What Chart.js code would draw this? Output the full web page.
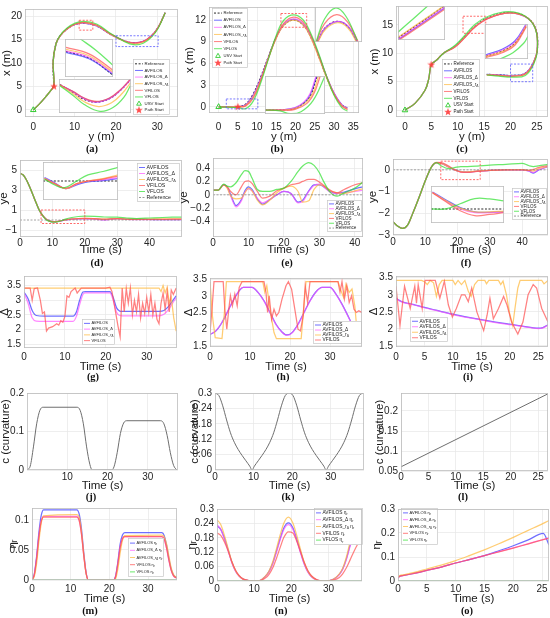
<!DOCTYPE html>
<html><head><meta charset="utf-8">
<script src="https://cdn.jsdelivr.net/npm/chart.js@4.4.1/dist/chart.umd.min.js"></script>
<style>
html,body{margin:0;padding:0;background:#fff}
body{width:550px;height:618px;position:relative;overflow:hidden}
canvas{position:absolute}
.plab{position:absolute;font:bold 10.5px "Liberation Serif","Times New Roman",serif;color:#111;transform:translate(-50%,-50%);white-space:nowrap}
</style></head><body>
<script>
// ===================== DATA =====================
const trajLabels = ['Reference','AVFILOS','AVFILOS_Δ','AVFILOS_r{Δ}','VFILOS','VFLOS','USV Start','Path Start'];
const yeLabels = ['AVFILOS','AVFILOS_Δ','AVFILOS_r{Δ}','VFILOS','VFLOS','Reference'];
const deltaLabels = ['AVFILOS','AVFILOS_Δ','AVFILOS_r{Δ}','VFILOS'];
const etaLabels = ['AVFILOS η{r}','AVFILOS_Δ η{r}','AVFILOS_r{Δ} η{r}','VFILOS η{r}','VFLOS η{r}'];

// (a) trajectory: horizontal = y (m), vertical = x (m)
const trajA_h = [0, 1.5, 3, 4.3, 5, 4.8, 5.5, 6.5, 8.1, 10.1, 12.2, 15.3, 18.5, 21.8, 24.2, 26.6, 28.6, 30.2, 31.9];
const trajA_avfilos  = [0, 1.3, 2.8, 4.2, 5.3, 10.2, 14.1, 15.8, 17.2, 18.2, 18.5, 17.9, 16.2, 14.8, 14.3, 14.6, 15.8, 17.6, 20.7];
const trajA_avfilosD = [0, 1.3, 2.8, 4.2, 5.3, 10.2, 14.1, 15.8, 17.2, 18.2, 18.55, 17.95, 16.2, 14.75, 14.25, 14.6, 15.8, 17.6, 20.7];
const trajA_avfilosR = [0, 1.3, 2.8, 4.2, 5.3, 10.2, 14.1, 15.8, 17.2, 18.25, 18.6, 18.0, 16.2, 14.7, 14.1, 14.45, 15.7, 17.5, 20.7];
const trajA_vfilos   = [0, 1.3, 2.8, 4.2, 5.3, 10.2, 14.1, 15.8, 17.25, 18.3, 18.65, 18.1, 16.3, 14.8, 14.3, 14.6, 15.8, 17.6, 20.7];
const trajA_vflos    = [0, 1.3, 2.8, 4.2, 5.3, 10.2, 14.1, 15.9, 17.4, 18.5, 18.85, 18.3, 16.4, 14.7, 13.9, 14.2, 15.5, 17.4, 20.7];
const trajA_refH = [5, 4.8, 5.5, 6.5, 8.1, 10.1, 12.2, 15.3, 18.5, 21.8, 24.2, 26.6, 28.6, 30.2, 31.9];
const trajA_refV = [5, 10.2, 14.1, 15.8, 17.2, 18.2, 18.5, 17.9, 16.2, 14.8, 14.3, 14.6, 15.8, 17.6, 20.7];
const usvA_h = [0], usvA_v = [0], pathA_h = [5], pathA_v = [5];

// (b) trajectory
const trajB_h = [0, 2.5, 5, 7, 9, 11, 13, 15, 17, 19.5, 22, 24, 26, 28, 30, 32, 33.5];
const trajB_avfilos  = [0, 0, 0, 0.25, 1.6, 4.0, 6.9, 9.6, 11.4, 12.1, 11.4, 9.7, 7.1, 4.3, 1.9, 0.3, -0.2];
const trajB_avfilosD = [0, 0, 0, 0.25, 1.6, 4.0, 6.9, 9.6, 11.4, 12.15, 11.45, 9.7, 7.1, 4.3, 1.9, 0.3, -0.2];
const trajB_avfilosR = [0, 0, 0, 0.2, 1.4, 3.8, 6.8, 9.5, 11.3, 12.0, 11.3, 9.5, 6.9, 4.1, 1.7, 0.2, -0.3];
const trajB_vfilos   = [0, 0, -0.05, 0.1, 1.2, 3.7, 6.8, 9.7, 11.6, 12.4, 11.7, 9.9, 7.2, 4.3, 1.8, 0.1, -0.4];
const trajB_vflos    = [0, -0.05, -0.1, -0.25, 0.8, 3.4, 6.7, 9.9, 12.0, 12.7, 12.0, 10.1, 7.4, 4.3, 1.6, -0.1, -0.6];
const trajB_refH = [5, 7, 9, 11, 13, 15, 17, 19.5, 22, 24, 26, 28, 30, 32, 33.5];
const trajB_refV = [0, 0.35, 1.8, 4.2, 7.0, 9.6, 11.3, 12.0, 11.3, 9.6, 7.0, 4.2, 1.8, 0.3, -0.2];
const usvB_h = [0], usvB_v = [0], pathB_h = [5], pathB_v = [0];

// (c) trajectory
const trajC_h = [0, 1.9, 3.8, 4.5, 5, 6, 7.3, 9.5, 11.4, 13.3, 15.8, 19.6, 22.8, 24.7, 25.1, 24.4, 22.8, 20.3, 17.7, 15.5];
const trajC_avfilos  = [0, 1.2, 3.5, 5.5, 8, 8.8, 10, 11.2, 12.9, 14.7, 16.2, 17.1, 16.4, 14.4, 10.9, 8.5, 6.5, 6.1, 6.2, 6.3];
const trajC_avfilosD = [0, 1.2, 3.5, 5.5, 8, 8.8, 10, 11.2, 12.9, 14.65, 16.15, 17.1, 16.4, 14.4, 10.9, 8.45, 6.45, 6.05, 6.15, 6.25];
const trajC_avfilosR = [0, 1.2, 3.5, 5.5, 8, 8.8, 10, 11.2, 12.9, 14.7, 16.2, 17.1, 16.45, 14.4, 10.9, 8.4, 6.4, 6.0, 6.1, 6.2];
const trajC_vfilos   = [0, 1.2, 3.5, 5.5, 8, 8.8, 10, 11.1, 12.8, 14.6, 16.1, 17.1, 16.45, 14.4, 10.9, 8.35, 6.35, 5.95, 6.1, 6.2];
const trajC_vflos    = [0, 1.2, 3.5, 5.5, 8, 8.8, 10, 11.4, 13.2, 15.1, 16.5, 17.3, 16.5, 14.3, 10.7, 8.1, 6.1, 5.8, 6.0, 6.2];
const trajC_refH = [5, 6, 7.3, 9.5, 11.4, 13.3, 15.8, 19.6, 22.8, 24.7, 25.1, 24.4, 22.8, 20.3, 17.7, 15.5];
const trajC_refV = [8, 8.8, 10, 11.25, 12.95, 14.75, 16.25, 17.15, 16.45, 14.45, 10.9, 8.5, 6.5, 6.1, 6.2, 6.3];
const usvC_h = [0], usvC_v = [0], pathC_h = [5], pathC_v = [8];

// (d) ye
const yeD_t = [0, 1, 2, 3, 4, 5, 6, 7, 8, 9, 10, 11, 12, 13, 14, 16, 18, 20, 23, 26, 30, 33, 36, 40, 44, 47, 50];
const yeD_avfilos  = [4.67, 4.5, 4.0, 3.3, 2.5, 1.7, 0.95, 0.45, 0.1, -0.08, -0.17, -0.18, -0.14, -0.07, 0.0, 0.08, 0.12, 0.13, 0.1, 0.03, 0.14, 0.06, 0.06, 0.05, 0.04, 0.05, 0.05];
const yeD_avfilosD = [4.67, 4.5, 4.0, 3.3, 2.5, 1.7, 0.95, 0.45, 0.1, -0.08, -0.17, -0.18, -0.14, -0.07, 0.0, 0.08, 0.12, 0.12, 0.08, 0.0, 0.13, 0.07, 0.05, 0.05, 0.05, 0.05, 0.05];
const yeD_avfilosR = [4.67, 4.5, 4.0, 3.3, 2.5, 1.7, 0.95, 0.45, 0.1, -0.08, -0.16, -0.17, -0.12, -0.05, 0.02, 0.1, 0.14, 0.16, 0.14, 0.08, 0.14, 0.09, 0.09, 0.1, 0.12, 0.12, 0.12];
const yeD_vfilos   = [4.67, 4.5, 4.0, 3.3, 2.5, 1.7, 0.95, 0.45, 0.1, -0.08, -0.16, -0.17, -0.12, -0.05, 0.03, 0.1, 0.15, 0.16, 0.13, 0.08, 0.14, 0.08, 0.06, 0.06, 0.07, 0.08, 0.08];
const yeD_vflos    = [4.67, 4.5, 4.0, 3.3, 2.5, 1.7, 0.95, 0.43, 0.05, -0.12, -0.2, -0.2, -0.15, -0.05, 0.08, 0.25, 0.35, 0.38, 0.36, 0.3, 0.28, 0.2, 0.15, 0.2, 0.25, 0.28, 0.3];
const refD_t = [0, 50], refD = [0, 0];

// (e) ye
const yeE_t = [0, 1.5, 3, 4, 5, 6.5, 8, 9, 10, 11, 12.5, 14, 16, 18, 20, 22, 24, 25.3, 27, 28.5, 30, 31, 33, 35, 37, 40, 42.3];
const yeE_avfilos  = [0.07, 0.07, 0.15, 0.12, 0.0, -0.16, -0.07, 0.06, 0.12, 0.08, -0.06, -0.14, -0.07, 0.0, 0.05, 0.02, -0.11, -0.08, 0.06, 0.15, 0.15, 0.13, 0.05, 0.02, 0.04, 0.09, 0.12];
const yeE_avfilosD = [0.07, 0.07, 0.15, 0.11, -0.02, -0.18, -0.09, 0.04, 0.09, 0.06, -0.05, -0.12, -0.07, 0.0, 0.05, 0.02, -0.12, -0.1, 0.05, 0.14, 0.16, 0.13, 0.04, 0.02, 0.03, 0.05, 0.07];
const yeE_avfilosR = [0.07, 0.07, 0.15, 0.1, -0.02, -0.06, -0.05, 0.03, 0.1, 0.06, -0.08, -0.15, -0.08, 0.03, 0.1, 0.13, 0.05, -0.11, -0.09, 0.08, 0.15, 0.14, 0.06, 0.03, 0.02, 0.06, 0.09];
const yeE_vfilos   = [0.07, 0.07, 0.15, 0.12, 0.05, 0.0, 0.12, 0.2, 0.21, 0.17, 0.05, -0.05, -0.02, 0.06, 0.1, 0.15, 0.17, 0.2, 0.23, 0.23, 0.19, 0.15, 0.07, 0.03, 0.08, 0.15, 0.18];
const yeE_vflos    = [0.07, 0.07, 0.16, 0.13, 0.12, 0.18, 0.3, 0.36, 0.35, 0.25, 0.08, 0.05, 0.05, 0.08, 0.1, 0.2, 0.35, 0.43, 0.48, 0.44, 0.33, 0.22, 0.04, -0.02, 0.03, 0.1, 0.19];
const refE_t = [0, 42.3], refE = [0, 0];

// (f) ye
const yeF_t = [0, 1.5, 3, 4.5, 6, 8, 10, 12, 13.5, 15, 17, 19, 21, 23, 26, 30, 35, 40, 42, 43.5, 45, 48];
const yeF_avfilos  = [-2.39, -2.6, -2.7, -2.55, -2.05, -1.3, -0.5, 0.15, 0.32, 0.3, 0.15, 0.0, -0.08, -0.1, -0.06, -0.02, 0.0, 0.0, -0.05, -0.15, -0.02, 0.15];
const yeF_avfilosD = [-2.39, -2.6, -2.7, -2.55, -2.05, -1.3, -0.5, 0.15, 0.32, 0.3, 0.15, 0.0, -0.1, -0.11, -0.06, -0.02, 0.0, 0.0, -0.05, -0.12, 0.0, 0.15];
const yeF_avfilosR = [-2.39, -2.6, -2.7, -2.55, -2.05, -1.3, -0.5, 0.15, 0.32, 0.3, 0.15, 0.0, -0.08, -0.09, -0.05, -0.02, 0.0, 0.01, -0.02, -0.05, 0.05, 0.15];
const yeF_vfilos   = [-2.39, -2.6, -2.7, -2.55, -2.05, -1.3, -0.5, 0.16, 0.34, 0.33, 0.2, 0.02, -0.1, -0.12, -0.07, -0.02, 0.0, 0.0, -0.02, 0.02, 0.1, 0.2];
const yeF_vflos    = [-2.39, -2.6, -2.7, -2.55, -2.05, -1.3, -0.5, 0.15, 0.33, 0.18, 0.06, 0.1, 0.15, 0.15, 0.17, 0.22, 0.25, 0.3, 0.2, 0.15, 0.18, 0.25];
const refF_t = [0, 48], refF = [0, 0];

// (g) Δ
const deltaG_t = [0, 1, 2, 3, 5, 12, 12.8, 13.6, 14.4, 15, 21, 21.8, 22.6, 23.4, 24, 33, 34.2, 35.4, 36.4, 37.2];
const deltaG_avfilos  = [3.28, 3.05, 2.65, 2.48, 2.46, 2.46, 2.6, 3.0, 3.28, 3.3, 3.3, 3.1, 2.75, 2.63, 2.62, 2.62, 2.65, 2.8, 3.0, 3.15];
const deltaG_avfilosD = [3.25, 2.9, 2.4, 2.29, 2.28, 2.28, 2.45, 2.85, 3.2, 3.25, 3.25, 3.0, 2.6, 2.48, 2.47, 2.47, 2.52, 2.7, 2.92, 3.08];
const deltaG_avfilosR = [[0,3.42],[33,3.42],[33.5,3.3],[34,3.5],[34.5,3.25],[35,3.45],[35.5,2.9],[36,3.1],[36.6,2.4],[37.2,1.95]];
const deltaG_vfilos = [[0,3.42],[1.5,3.42],[2,3.0],[2.5,3.4],[3.3,3.42],[4,3.0],[4.5,2.55],[5,2.6],[5.5,1.95],[6,2.05],[7,2.1],[8,2.2],[8.5,2.15],[9,2.3],[9.5,2.25],[10,2.45],[10.5,3.15],[11,3.1],[11.5,3.3],[12.5,3.42],[13,3.25],[14,3.42],[20,3.42],[21,3.45],[21.5,3.3],[22,2.9],[22.5,2.5],[23,2.1],[23.5,1.75],[24,3.42],[24.5,2.6],[25,3.4],[25.5,2.9],[26,3.42],[26.5,2.5],[27,3.0],[27.5,2.6],[28,3.2],[28.5,2.4],[29,2.9],[29.5,2.55],[30,3.1],[30.5,2.6],[31,3.2],[31.5,2.5],[32,2.9],[32.5,2.35],[33,2.2],[33.5,2.9],[34,3.25],[34.5,2.7],[35,3.3],[35.5,2.6],[36,3.35],[36.5,3.2],[37.2,3.42]];

// (h) Δ
const deltaH_t = [0, 1.5, 3, 4.5, 6, 7.5, 8.3, 10.5, 12, 13.5, 15, 16.5, 18, 19.2, 20.5, 22, 23.5, 25, 26.5, 28, 30, 31.5, 33, 34.5, 36, 37, 38];
const deltaH_avfilos  = [1.84, 1.95, 2.2, 2.55, 2.9, 3.18, 3.25, 3.25, 3.1, 2.85, 2.5, 2.15, 1.92, 1.83, 1.9, 2.15, 2.5, 2.85, 3.12, 3.25, 3.25, 3.05, 2.75, 2.4, 2.05, 1.92, 1.85];
const deltaH_avfilosD = [1.85, 1.96, 2.21, 2.56, 2.91, 3.19, 3.25, 3.25, 3.1, 2.84, 2.49, 2.14, 1.91, 1.82, 1.89, 2.14, 2.49, 2.84, 3.11, 3.25, 3.25, 3.04, 2.74, 2.39, 2.04, 1.91, 1.84];
const deltaH_avfilosR = [[0,3.42],[0.6,2.4],[1.3,1.75],[3,1.72],[3.6,2.5],[4.1,3.42],[13.2,3.42],[13.7,3.1],[14.2,3.3],[15,2.6],[16,1.9],[16.6,1.72],[22.8,1.72],[23.4,2.6],[24,3.42],[32,3.42],[32.6,3.2],[33.4,2.95],[34,3.35],[34.8,3.1],[35.5,3.2],[36.2,2.7],[36.9,1.75],[38,1.72]];
const deltaH_vfilos = [[0,1.9],[0.5,2.6],[1,3.42],[3.3,3.42],[3.7,2.6],[4.2,2.0],[4.7,2.6],[5.1,3.0],[5.6,2.7],[6.2,3.05],[6.8,2.7],[7.3,3.25],[8,3.42],[13.5,3.42],[14,3.1],[14.4,2.5],[14.8,3.0],[15.4,2.3],[16,2.6],[16.6,2.4],[17.2,2.5],[18,2.9],[19,3.3],[19.6,3.42],[20.4,3.2],[21.2,2.6],[22,2.0],[22.6,1.95],[23.3,2.4],[23.8,3.3],[24.4,2.8],[25,3.42],[32,3.42],[32.5,3.1],[33,3.42],[33.6,2.9],[34.2,3.3],[34.8,2.8],[35.4,3.0],[36,2.6],[36.6,2.5],[37.2,2.55],[38,2.5]];

// (i) Δ
const deltaI_t = [0, 1, 3, 5, 7, 10, 13, 16, 19, 22, 25, 25.8, 26.7];
const deltaI_avfilos  = [2.9, 2.8, 2.72, 2.63, 2.55, 2.43, 2.33, 2.24, 2.16, 2.09, 2.02, 2.04, 2.12];
const deltaI_avfilosD = [2.89, 2.79, 2.71, 2.62, 2.54, 2.42, 2.32, 2.23, 2.15, 2.08, 2.01, 2.03, 2.11];
const deltaI_avfilosR = [[0,3.42],[4.5,3.42],[5,3.38],[5.5,3.3],[6,3.42],[6.6,3.35],[7.1,2.95],[7.6,3.3],[8.1,3.42],[10,3.42],[10.4,3.3],[10.9,3.42],[11.5,3.3],[12.1,3.42],[12.7,3.1],[13.2,2.95],[13.8,3.3],[14.4,3.42],[15.6,3.42],[15.9,3.32],[16.3,3.42],[18,3.42],[18.4,3.3],[18.8,3.4],[19.4,3.0],[19.9,2.5],[20.5,2.1],[20.9,2.6],[21.4,3.2],[21.8,3.42],[25.6,3.42],[26,3.32],[26.7,3.42]];
const deltaI_vfilos = [[0,3.25],[0.7,2.1],[1.5,3.25],[2.5,2.6],[3.3,3.25],[3.6,2.75],[3.9,3.3],[4.6,2.6],[5.1,3.42],[6.9,3.42],[7.7,2.9],[8.5,3.4],[9.2,2.7],[9.9,2.35],[10.6,2.6],[11.5,3.0],[12.1,3.0],[12.7,2.8],[13.3,3.2],[14.2,2.5],[15.4,1.95],[16,2.4],[16.5,2.9],[17.1,2.3],[18,2.6],[18.9,2.95],[19.5,2.7],[20.3,2.2],[21.4,1.85],[22.3,2.2],[23.2,3.0],[24.1,3.3],[24.7,3.2],[25.6,2.6],[26.7,2.2]];

// (j)(k)(l) curvature
const curvJ_t = [0, 0.8, 1.6, 2.4, 3.2, 4, 12.4, 13.2, 14, 14.8, 15.6, 16.2, 21, 21.6, 22.4, 23.2, 24, 24.8, 33.2, 34, 34.8, 35.6, 36.4, 37.2];
const curvJ   = [0, 0.01, 0.06, 0.12, 0.155, 0.163, 0.163, 0.155, 0.12, 0.06, 0.015, 0, 0, 0.008, 0.045, 0.095, 0.122, 0.128, 0.128, 0.12, 0.09, 0.045, 0.012, 0];
const curvK_t = [0,1,2,3,4,5,6,7,8,9,9.6, 10.2,11.2,12.2,13.2,14.2,15.2,16.2,17.2,18.2,19.2, 20.2,21.2,22.2,23.2,24.2,25.2,26.2,27.2,28.2,28.8, 29.4,30.4,31.4,32.4,33.4,34.4,35.4,36.4,37.4,38.4];
const curvK   = [0.3,0.29,0.25,0.195,0.145,0.108,0.08,0.057,0.036,0.015,0, 0.015,0.036,0.057,0.08,0.108,0.145,0.195,0.25,0.29,0.3, 0.29,0.25,0.195,0.145,0.108,0.08,0.057,0.036,0.015,0, 0.015,0.036,0.057,0.08,0.108,0.145,0.195,0.25,0.29,0.3];
const curvL_t = [0, 26.8];
const curvL   = [0.0605, 0.243];

// (m) η_r
const etaM_t = [0, 0.6, 1.2, 1.8, 2.4, 3, 11.6, 12.2, 12.8, 13.4, 14, 14.6, 21, 21.6, 22.2, 22.8, 23.4, 24, 33.6, 34.2, 34.8, 35.4, 36, 36.6, 37.5];
const etaM_avfilos  = [0, 0.01, 0.04, 0.08, 0.108, 0.117, 0.117, 0.11, 0.085, 0.045, 0.012, 0, 0, 0.006, 0.03, 0.06, 0.075, 0.079, 0.079, 0.074, 0.058, 0.036, 0.018, 0.008, 0.004];
const etaM_avfilosD = [0, 0.009, 0.037, 0.074, 0.099, 0.106, 0.106, 0.1, 0.077, 0.04, 0.011, 0, 0, 0.005, 0.027, 0.055, 0.069, 0.0725, 0.0725, 0.068, 0.053, 0.033, 0.016, 0.007, 0.003];
const etaM_avfilosR = [0, 0.006, 0.028, 0.065, 0.095, 0.107, 0.109, 0.105, 0.08, 0.042, 0.01, 0, 0, 0.002, 0.018, 0.045, 0.066, 0.074, 0.075, 0.072, 0.06, 0.04, 0.02, 0.009, 0.004];
const etaM_vfilos   = [0, 0.009, 0.036, 0.073, 0.098, 0.105, 0.105, 0.099, 0.076, 0.04, 0.011, 0, 0, 0.005, 0.027, 0.054, 0.069, 0.0725, 0.0725, 0.068, 0.053, 0.033, 0.016, 0.007, 0.003];
const etaM_vflos_t = [0, 37.5], etaM_vflos = [0, 0];

// (n) η_r
const etaN_t = [0,1,2,3,4,5,6,7,8.5,10,11.5,13,14,15,16,17,18,19.2,20.4,21.4,22.4,23.4,24.4,25.4,26.9,28.5,30,31.4,32.9,33.8,34.8,35.8,36.8,37.8,38.6,39];
const etaN_avfilos  = [0.23,0.215,0.178,0.13,0.078,0.042,0.02,0.008,0.002,0,0.002,0.019,0.04,0.075,0.125,0.177,0.222,0.242,0.222,0.177,0.125,0.075,0.04,0.019,0.004,0,0.001,0.008,0.028,0.05,0.092,0.15,0.197,0.232,0.242,0.24];
const etaN_avfilosD = [0.235,0.215,0.175,0.126,0.075,0.04,0.019,0.007,0.002,0,0.002,0.018,0.038,0.072,0.12,0.172,0.215,0.235,0.215,0.172,0.12,0.072,0.038,0.018,0.004,0,0.001,0.007,0.027,0.048,0.089,0.145,0.19,0.225,0.235,0.233];
const etaN_avfilosR = [0.255,0.235,0.19,0.135,0.08,0.043,0.02,0.008,0.002,0,0.002,0.02,0.042,0.08,0.135,0.193,0.242,0.266,0.242,0.193,0.135,0.08,0.042,0.02,0.004,0,0.001,0.008,0.03,0.053,0.1,0.163,0.215,0.253,0.266,0.262];
const etaN_vfilos   = [0.2,0.19,0.163,0.125,0.08,0.045,0.022,0.009,0.002,0,0.001,0.012,0.028,0.055,0.095,0.14,0.182,0.205,0.2,0.168,0.125,0.08,0.045,0.022,0.005,0,0.001,0.004,0.015,0.03,0.055,0.088,0.122,0.152,0.17,0.177];
const etaN_vflos_t = [0, 39], etaN_vflos = [0, 0];

// (o) η_r
const etaO_t = [0, 0.3, 1, 3, 5, 7.5, 10, 12.5, 15, 17.5, 20, 22.5, 25.2, 26.2];
const etaO_avfilos  = [0.012, 0.02, 0.023, 0.033, 0.044, 0.058, 0.075, 0.09, 0.106, 0.126, 0.147, 0.17, 0.198, 0.15];
const etaO_avfilosD = [0.012, 0.02, 0.023, 0.033, 0.044, 0.058, 0.075, 0.09, 0.106, 0.122, 0.138, 0.155, 0.173, 0.18];
const etaO_avfilosR = [0.015, 0.023, 0.026, 0.037, 0.05, 0.066, 0.085, 0.107, 0.13, 0.155, 0.182, 0.21, 0.24, 0.252];
const etaO_vfilos   = [0.012, 0.02, 0.023, 0.033, 0.044, 0.058, 0.075, 0.09, 0.106, 0.121, 0.137, 0.154, 0.172, 0.179];
const etaO_vflos_t = [0, 26.2], etaO_vflos = [0, 0];

// inset (zoomed) series, local 0..10 coordinates
const insA1_ref = [[0.2,6.7],[5,5.0],[10,0.5]];
const insA1_av  = [[0.2,6.5],[5,4.8],[10,0.7]];
const insA1_avD = [[0.2,6.9],[5,5.2],[10,1.0]];
const insA1_avR = [[0.2,7.3],[5,5.6],[10,1.3]];
const insA1_vf  = [[0.2,7.8],[5,6.1],[10,1.8]];
const insA1_vfl = [[3,10.2],[6.5,7.0],[10,3.1]];
const insA2_ref = [[0.1,8.4],[2,6.0],[3.5,4.0],[5.2,3.2],[7,4.2],[8.5,6.6],[9.9,9.7]];
const insA2_av  = [[0.1,8.3],[2,6.2],[3.5,4.3],[5.2,3.3],[7,4.3],[8.5,6.7],[9.9,9.8]];
const insA2_avD = [[0.1,8.3],[2,6.1],[3.5,4.2],[5.2,3.2],[7,4.2],[8.5,6.6],[9.9,9.7]];
const insA2_avR = [[0.1,8.2],[2,5.6],[3.5,3.3],[5.5,1.9],[7.3,3.0],[8.8,5.8],[9.9,8.8]];
const insA2_vf  = [[0.1,8.3],[2,6.3],[3.5,4.4],[5.2,3.4],[7,4.4],[8.5,6.8],[9.9,9.9]];
const insA2_vfl = [[0.1,8.1],[2,5.1],[3.5,2.5],[5.7,0.5],[7.5,1.6],[9,4.6],[9.9,8]];
const insB1_ref = [[0.5,0],[2.2,4.1],[4.7,5.9],[7,4.4],[9,0]];
const insB1_av  = [[0.5,0],[2.2,4.0],[4.8,5.8],[7,4.5],[9,0]];
const insB1_avD = [[0.5,0],[2.2,4.1],[4.8,5.9],[7,4.6],[9.1,0]];
const insB1_avR = [[0.6,0],[2.3,3.7],[4.8,5.5],[7,4.0],[8.8,0]];
const insB1_vf  = [[0.3,0],[2,5.2],[4.6,7.8],[7,5.6],[9.2,0]];
const insB1_vfl = [[0.3,0.3],[2,6.5],[4.3,9.7],[6.5,7.5],[9,0.5]];
const insB2_ref = [[0,1.05],[3,1.1],[5,1.5],[6.5,2.9],[7.6,5],[8.7,10]];
const insB2_av  = [[0,1.05],[3,1.1],[5,1.6],[6.5,3],[7.5,5],[8.6,10]];
const insB2_avD = [[0,1.05],[3,1.1],[5,1.7],[6.5,3.2],[7.5,5.3],[8.5,10]];
const insB2_avR = [[0,1.05],[3,1.05],[5,1.4],[6.8,3],[8,5.5],[8.9,10]];
const insB2_vf  = [[0,1.05],[3,1.0],[5,1.2],[7,2.8],[8.2,5.5],[9.2,10]];
const insB2_vfl = [[0,1.05],[2.5,0.8],[4.2,0.1],[6,0.6],[8,3.5],[10,10]];
const insC1_ref = [[0,0.6],[5,5.3],[10,10.1]];
const insC1_av  = [[0,0.1],[5,4.8],[10,9.5]];
const insC1_avD = [[0,0.3],[5,5.0],[10,9.7]];
const insC1_avR = [[0,0.8],[5,5.5],[10,10.3]];
const insC1_vf  = [[0,-0.2],[5,4.4],[10,9.1]];
const insC1_vfl = [[0,2.3],[3.2,6.2],[6.3,10]];
const insC2_ref = [[0.2,0.8],[4,2.3],[7,4.6],[9.6,9.6]];
const insC2_av  = [[0.2,1.2],[4,2.8],[7,5.2],[9.6,10]];
const insC2_avD = [[0.2,1.0],[4,2.5],[7,4.9],[9.6,9.8]];
const insC2_avR = [[0.2,0.7],[4,2.1],[7,4.4],[9.6,9.5]];
const insC2_vf  = [[0.2,0.4],[4,1.8],[7,4.0],[9.6,9.2]];
const insC2_vfl = [[3.5,0],[6.5,1.8],[9,4.5],[10,6.5]];
const insD_ref = [[0,5],[10,5]];
const insD_av  = [[0.2,5.9],[1.5,4.6],[3,3.0],[4.5,4.0],[6,4.8],[8,5.1],[10,5.6]];
const insD_avD = [[0.2,5.7],[1.5,4.4],[3,3.0],[4.5,4.2],[6,5.0],[8,5.3],[10,5.9]];
const insD_avR = [[0.2,5.7],[1.5,4.4],[3.1,3.0],[4.5,4.3],[6,5.0],[8,5.6],[10,6.6]];
const insD_vf  = [[0.2,5.6],[1.5,4.3],[3,3.1],[4.5,4.3],[6,5.0],[8,5.5],[10,6.3]];
const insD_vfl = [[0.2,5.5],[1.5,4.0],[2.8,3.2],[4.5,5.0],[6,6.6],[8,7.5],[10,8.6]];
const insF_ref = [[0,3.8],[10,3.8]];
const insF_av  = [[0.2,8.4],[2,6.3],[4,4.2],[6,3.0],[8,2.9],[10,3.1]];
const insF_avD = [[0.2,8.3],[2,6.0],[4,3.8],[6,2.8],[8,2.8],[10,3.0]];
const insF_avR = [[0.2,8.2],[2,6.1],[4,4.0],[6,3.0],[8,3.0],[10,3.2]];
const insF_vf  = [[0.2,8.2],[2,5.8],[4,3.3],[6,2.0],[8,2.3],[10,2.8]];
const insF_vfl = [[0,3.8],[2,3.8],[4,5.2],[6,6.6],[8,6.5],[10,6.0]];

// tick values
const tk = {
  a:{x:[0,10,20,30], y:[0,5,10,15,20]},
  b:{x:[0,5,10,15,20,25,30,35], y:[0,3,6,9,12]},
  c:{x:[0,5,10,15,20,25], y:[0,5,10,15]},
  d:{x:[0,10,20,30,40], y:[-1,1,3,5]},
  e:{x:[0,10,20,30,40], y:[-0.4,-0.2,0,0.2,0.4]},
  f:{x:[0,10,20,30,40], y:[-3,-2,-1,0]},
  g:{x:[0,10,20,30], y:[1.5,2,2.5,3,3.5]},
  h:{x:[0,10,20,30], y:[1.5,2,2.5,3,3.5]},
  i:{x:[0,5,10,15,20,25], y:[1.5,2,2.5,3,3.5]},
  j:{x:[10,20,30], y:[0,0.1,0.2]},
  k:{x:[0,10,20,30], y:[0,0.06,0.12,0.18,0.24,0.3]},
  l:{x:[0,5,10,15,20,25], y:[0.05,0.1,0.15,0.2]},
  m:{x:[0,10,20,30], y:[0,0.05,0.1]},
  n:{x:[0,10,20,30], y:[0,0.06,0.12,0.18,0.24,0.3]},
  o:{x:[0,5,10,15,20,25], y:[0,0.1,0.2,0.3]}
};

// ===================== STYLE / LAYOUT =====================
const FAM = '"Liberation Sans", Arial, "DejaVu Sans", sans-serif';
const TICK_FS = 10, TITLE_FS = 11.5;
Chart.defaults.font.family = FAM;
Chart.defaults.color = '#262626';
const C = {
  blue:'rgba(70,70,255,0.78)', mag:'rgba(255,80,255,0.68)', orange:'rgba(255,185,60,0.72)',
  red:'rgba(255,80,80,0.72)', green:'rgba(50,225,50,0.72)', ref:'#2a2a2a', refGrey:'rgba(120,120,120,0.75)',
  curv:'#6e6e6e', greenM:'#33cc33', redM:'#ff3333'
};
const SER = [C.blue, C.mag, C.orange, C.red, C.green];

const zip = (xs, ys) => xs.map((x, i) => ({x, y: ys[i]}));
const pts = a => a.map(p => ({x: p[0], y: p[1]}));
function fmt(v){ const a = parseFloat(Math.abs(v).toFixed(4)); return (v < -1e-9 ? '\u2212' : '') + a; }
function ln(label, data, color, o) {
  return Object.assign({label, data, borderColor: color, backgroundColor: color, borderWidth: 1.25,
    pointRadius: 0, pointHoverRadius: 0, showLine: true, fill: false, tension: 0.4}, o || {});
}
const MONO = {cubicInterpolationMode:'monotone'};

function starImg(size, color){
  const c = document.createElement('canvas'); c.width = c.height = size;
  const g = c.getContext('2d'); g.fillStyle = color; g.beginPath();
  for (let i = 0; i < 10; i++) { const r = i % 2 ? size*0.21 : size*0.5; const a = -Math.PI/2 + i*Math.PI/5;
    g.lineTo(size/2 + r*Math.cos(a), size/2 + r*Math.sin(a)); }
  g.closePath(); g.fill(); return c;
}
const STAR = starImg(8, 'rgba(255,60,60,0.9)');

function richParts(text){ return text.split(/(\{[^}]*\})/).filter(s => s.length); }
function richWidth(ctx, text, fs){
  let w = 0;
  for (const p of richParts(text)) {
    if (p[0] === '{') { ctx.font = (fs*0.72) + 'px ' + FAM; w += ctx.measureText(p.slice(1,-1)).width; }
    else { ctx.font = fs + 'px ' + FAM; w += ctx.measureText(p).width; }
  }
  return w;
}
function drawRich(ctx, text, x, y, fs){
  let cx = x;
  for (const p of richParts(text)) {
    if (p[0] === '{') { const s = p.slice(1,-1); ctx.font = (fs*0.72) + 'px ' + FAM; ctx.fillText(s, cx, y + fs*0.32); cx += ctx.measureText(s).width; }
    else { ctx.font = fs + 'px ' + FAM; ctx.fillText(p, cx, y); cx += ctx.measureText(p).width; }
  }
}
function drawMarker(ctx, d, x, y){
  const ps = d.pointStyle;
  if (ps instanceof HTMLCanvasElement) { ctx.drawImage(ps, x - ps.width/2, y - ps.height/2); return; }
  const r = 2.5; ctx.strokeStyle = d.pointBorderColor || d.borderColor; ctx.lineWidth = 0.9;
  ctx.beginPath(); ctx.moveTo(x, y - r); ctx.lineTo(x + r*0.95, y + r*0.65); ctx.lineTo(x - r*0.95, y + r*0.65); ctx.closePath(); ctx.stroke();
}

const legendPlugin = {
  id: 'boxLegend',
  afterDatasetsDraw(chart, args, o) {
    if (!o || !o.rect) return;
    const ctx = chart.ctx; const [x0, y0, x1, y1] = o.rect;
    const items = chart.data.datasets.filter(d => !d.noLegend);
    ctx.save();
    ctx.fillStyle = '#fff'; ctx.fillRect(x0, y0, x1 - x0, y1 - y0);
    ctx.strokeStyle = '#c6c6c6'; ctx.lineWidth = 0.7; ctx.strokeRect(x0 + 0.5, y0 + 0.5, x1 - x0 - 1, y1 - y0 - 1);
    const n = items.length, pad = 1.5, rh = (y1 - y0 - 2*pad) / n;
    const tx = x0 + 2 + o.sw + 1.5, avail = x1 - tx - 1.5;
    let maxW = 0; items.forEach(d => { maxW = Math.max(maxW, richWidth(ctx, d.label, 10)); });
    const fs = Math.min(o.fs, 10 * avail / maxW);
    ctx.textBaseline = 'middle';
    items.forEach((d, i) => {
      const cy = y0 + pad + rh*(i + 0.5);
      const sx0 = x0 + 2, sx1 = x0 + 2 + o.sw;
      if (d.showLine === false) drawMarker(ctx, d, (sx0 + sx1)/2, cy);
      else { ctx.strokeStyle = d.borderColor; ctx.lineWidth = 1; ctx.setLineDash(d.borderDash || []);
        ctx.beginPath(); ctx.moveTo(sx0, cy); ctx.lineTo(sx1, cy); ctx.stroke(); ctx.setLineDash([]); }
      ctx.fillStyle = '#222';
      drawRich(ctx, d.label, tx, cy, fs);
    });
    ctx.restore();
  }
};
const zoomBoxPlugin = {
  id: 'zoomBoxes',
  afterDatasetsDraw(chart, args, o) {
    if (!o || !o.boxes || !o.boxes.length) return;
    const ctx = chart.ctx, sx = chart.scales.x, sy = chart.scales.y;
    ctx.save(); ctx.lineWidth = 0.9; ctx.setLineDash([2, 1.5]);
    for (const b of o.boxes) {
      const X0 = sx.getPixelForValue(b.x0), X1 = sx.getPixelForValue(b.x1), Y0 = sy.getPixelForValue(b.y0), Y1 = sy.getPixelForValue(b.y1);
      ctx.strokeStyle = b.c; ctx.strokeRect(X0, Y1, X1 - X0, Y0 - Y1);
    }
    ctx.restore();
  }
};
const framePlugin = {
  id: 'frame',
  beforeDatasetsDraw(chart, args, o) {
    if (o && o.bg) { const a = chart.chartArea; chart.ctx.save(); chart.ctx.fillStyle = o.bg; chart.ctx.fillRect(a.left, a.top, a.right - a.left, a.bottom - a.top); chart.ctx.restore(); }
  },
  afterDraw(chart) {
    const a = chart.chartArea, ctx = chart.ctx; ctx.save(); ctx.strokeStyle = '#bdbdbd'; ctx.lineWidth = 0.8;
    ctx.strokeRect(a.left + 0.4, a.top + 0.4, a.right - a.left - 0.8, a.bottom - a.top - 0.8); ctx.restore();
  }
};

function addCanvas(l, t, w, h){
  const cv = document.createElement('canvas'); cv.width = w; cv.height = h;
  cv.style.left = l + 'px'; cv.style.top = t + 'px'; cv.style.width = w + 'px'; cv.style.height = h + 'px';
  document.body.appendChild(cv); return cv;
}
function axis(min, max, ticks, title, pad, size, isX){
  return {
    type: 'linear', min, max, bounds: 'data',
    afterBuildTicks: s => { s.ticks = ticks.map(v => ({value: v})); },
    afterFit: s => { if (isX) s.height = size; else s.width = size; },
    ticks: {font: {size: TICK_FS}, color: '#262626', padding: pad, maxRotation: 0, autoSkip: false, callback: v => fmt(v)},
    grid: {color: '#e6e6e6', lineWidth: 0.7, drawTicks: false},
    border: {display: false},
    title: {display: true, text: title, font: {size: TITLE_FS}, color: '#1a1a1a', padding: 0}
  };
}
function makePanel(p, o){
  const pt = 8, pr = 5;
  const half = TITLE_FS * 0.6;
  const yw = Math.round(p.L - p.ytX + half);
  const xh = Math.round(p.xtlY - p.B + half);
  const cl = p.L - yw, ct = p.T - pt;
  const cw = yw + (p.R - p.L) + pr, chh = pt + (p.B - p.T) + xh;
  const cv = addCanvas(cl, ct, cw, chh);
  const xpad = Math.max(0, p.xtY - p.B - TICK_FS * 0.6);
  const leg = o.legend ? {rect: [o.legend.r[0] - cl, o.legend.r[1] - ct, o.legend.r[2] - cl, o.legend.r[3] - ct], fs: o.legend.fs, sw: o.legend.sw} : {};
  new Chart(cv, {type: 'scatter', data: {datasets: o.ds}, options: {
    responsive: false, animation: false, events: [],
    layout: {padding: {top: pt, right: pr, left: 0, bottom: 0}},
    plugins: {legend: {display: false}, tooltip: {enabled: false}, boxLegend: leg, zoomBoxes: {boxes: o.boxes || []}, frame: {}},
    scales: {x: axis(o.xr[0], o.xr[1], o.xt, o.xTitle, xpad, xh, true), y: axis(o.yr[0], o.yr[1], o.yt, o.yTitle, 3, yw, false)}
  }, plugins: [zoomBoxPlugin, legendPlugin, framePlugin]});
  const lab = document.createElement('div'); lab.className = 'plab'; lab.textContent = o.tag;
  lab.style.left = o.tagXY[0] + 'px'; lab.style.top = o.tagXY[1] + 'px'; document.body.appendChild(lab);
}
function makeInset(r, ds){
  const cv = addCanvas(r[0], r[1], r[2] - r[0], r[3] - r[1]);
  new Chart(cv, {type: 'scatter', data: {datasets: ds}, options: {
    responsive: false, animation: false, events: [], layout: {padding: 0},
    plugins: {legend: {display: false}, tooltip: {enabled: false}, frame: {bg: '#fff'}},
    scales: {x: {display: false, min: 0, max: 10}, y: {display: false, min: 0, max: 10}}
  }, plugins: [framePlugin]});
}

// dataset builders
function trajDs(h, series, refH, refV, usvH, usvV, pathH, pathV){
  const ds = [ln(trajLabels[0], zip(refH, refV), C.ref, {borderDash: [2, 1.6], borderWidth: 1.2, order: 20})];
  series.forEach((s, i) => ds.push(ln(trajLabels[i + 1], zip(h, s), SER[i], {order: 10 - i})));
  ds.push({label: trajLabels[6], data: zip(usvH, usvV), showLine: false, pointStyle: 'triangle', pointRadius: 3.2,
    pointBorderColor: C.greenM, pointBackgroundColor: 'rgba(0,0,0,0)', pointBorderWidth: 1, borderColor: C.greenM, order: -1});
  ds.push({label: trajLabels[7], data: zip(pathH, pathV), showLine: false, pointStyle: STAR, borderColor: C.redM, order: -2});
  return ds;
}
function yeDs(t, series, rt, rv){
  const ds = series.map((s, i) => ln(yeLabels[i], zip(t, s), SER[i], Object.assign({order: 10 - i}, MONO)));
  ds.push(ln(yeLabels[5], zip(rt, rv), C.refGrey, {borderDash: [2, 1.5], borderWidth: 0.9, tension: 0, order: 0}));
  return ds;
}
function deltaDs(t, av, avD, avR, vf){
  return [
    ln(deltaLabels[0], zip(t, av), C.blue, Object.assign({order: 10}, MONO)),
    ln(deltaLabels[1], zip(t, avD), C.mag, Object.assign({order: 9}, MONO)),
    ln(deltaLabels[2], pts(avR), C.orange, {tension: 0, order: 8}),
    ln(deltaLabels[3], pts(vf), C.red, {tension: 0, order: 7})
  ];
}
function etaDs(t, series, gt, gv){
  const ds = series.map((s, i) => ln(etaLabels[i], zip(t, s), SER[i], Object.assign({order: 10 - i}, MONO)));
  ds.push(ln(etaLabels[4], zip(gt, gv), C.green, {tension: 0, order: 5}));
  return ds;
}
function insetDs(list){ return list.map((a, i) => i === 0 ? ln('', pts(a), C.ref, {borderDash: [2, 1.6], borderWidth: 1.1, order: 20}) : ln('', pts(a), SER[i - 1], {order: 10 - i})); }
function curvDs(t, v){ return [ln('c', zip(t, v), C.curv, Object.assign({borderWidth: 1, noLegend: true}, MONO))]; }

const BR = 'rgba(255,70,70,0.9)', BB = 'rgba(90,90,255,0.9)';

// ---------------- Row 1 ----------------
makePanel({L:25,T:8,R:178,B:117,xtY:127,xtlY:137,ytX:7}, {
  tag:'(a)', tagXY:[92,148], xr:[-2,35], yr:[-1.5,21.5], xt:tk.a.x, yt:tk.a.y, xTitle:'y (m)', yTitle:'x (m)',
  ds: trajDs(trajA_h, [trajA_avfilos, trajA_avfilosD, trajA_avfilosR, trajA_vfilos, trajA_vflos], trajA_refH, trajA_refV, usvA_h, usvA_v, pathA_h, pathA_v),
  boxes:[{x0:11.1,x1:14.4,y0:17,y1:19.1,c:BR},{x0:20,x1:30.2,y0:13.5,y1:15.8,c:BB}],
  legend:{r:[133,59,170,115], fs:5.6, sw:8}
});
makePanel({L:209,T:6,R:362,B:113,xtY:127,xtlY:137,ytX:190}, {
  tag:'(b)', tagXY:[277,148], xr:[-2.5,36.5], yr:[-0.85,13.8], xt:tk.b.x, yt:tk.b.y, xTitle:'y (m)', yTitle:'x (m)',
  ds: trajDs(trajB_h, [trajB_avfilos, trajB_avfilosD, trajB_avfilosR, trajB_vfilos, trajB_vflos], trajB_refH, trajB_refV, usvB_h, usvB_v, pathB_h, pathB_v),
  boxes:[{x0:16.2,x1:22.9,y0:11,y1:12.9,c:BR},{x0:2,x1:10.2,y0:-0.27,y1:1.09,c:BB}],
  legend:{r:[212,8,248,68], fs:5.6, sw:8}
});
makePanel({L:396,T:5,R:548,B:117,xtY:127,xtlY:137,ytX:375}, {
  tag:'(c)', tagXY:[462,148], xr:[-1.7,27.1], yr:[-1.2,18.3], xt:tk.c.x, yt:tk.c.y, xTitle:'y (m)', yTitle:'x (m)',
  ds: trajDs(trajC_h, [trajC_avfilos, trajC_avfilosD, trajC_avfilosR, trajC_vfilos, trajC_vflos], trajC_refH, trajC_refV, usvC_h, usvC_v, pathC_h, pathC_v),
  boxes:[{x0:11,x1:15.3,y0:13.5,y1:16.5,c:BR},{x0:20,x1:24.2,y0:5.0,y1:8.1,c:BB}],
  legend:{r:[442,59,480,117], fs:5.6, sw:8}
});
// ---------------- Row 2 ----------------
makePanel({L:20,T:159,R:182,B:237,xtY:242.5,xtlY:250.5,ytX:4}, {
  tag:'(d)', tagXY:[97,262], xr:[0,50], yr:[-1.7,6], xt:tk.d.x, yt:tk.d.y, xTitle:'Time (s)', yTitle:'ye',
  ds: yeDs(yeD_t, [yeD_avfilos, yeD_avfilosD, yeD_avfilosR, yeD_vfilos, yeD_vflos], refD_t, refD),
  boxes:[{x0:6.5,x1:20,y0:-0.35,y1:1.0,c:BR}],
  legend:{r:[137,163,180,202], fs:5.3, sw:6}
});
makePanel({L:213,T:157,R:363,B:237,xtY:242.5,xtlY:250.5,ytX:184}, {
  tag:'(e)', tagXY:[287,262], xr:[0,42.3], yr:[-0.63,0.55], xt:tk.e.x, yt:tk.e.y, xTitle:'Time (s)', yTitle:'ye',
  ds: yeDs(yeE_t, [yeE_avfilos, yeE_avfilosD, yeE_avfilosR, yeE_vfilos, yeE_vflos], refE_t, refE),
  legend:{r:[327,200,362,232], fs:4.6, sw:5}
});
makePanel({L:393,T:158,R:548,B:235,xtY:242,xtlY:250.5,ytX:373}, {
  tag:'(f)', tagXY:[466,262], xr:[0,48], yr:[-3,0.5], xt:tk.f.x, yt:tk.f.y, xTitle:'Time (s)', yTitle:'ye',
  ds: yeDs(yeF_t, [yeF_avfilos, yeF_avfilosD, yeF_avfilosR, yeF_vfilos, yeF_vflos], refF_t, refF),
  boxes:[{x0:14.8,x1:27,y0:-0.45,y1:0.4,c:BR}],
  legend:{r:[512,188,547,220], fs:4.6, sw:5}
});
// ---------------- Row 3 ----------------
makePanel({L:24,T:275,R:177,B:348,xtY:357,xtlY:367,ytX:5}, {
  tag:'(g)', tagXY:[93,376], xr:[0,37.4], yr:[1.37,3.83], xt:tk.g.x, yt:tk.g.y, xTitle:'Time (s)', yTitle:'Δ',
  ds: deltaDs(deltaG_t, deltaG_avfilos, deltaG_avfilosD, deltaG_avfilosR, deltaG_vfilos),
  legend:{r:[82,319,115,345], fs:5, sw:6}
});
makePanel({L:210,T:277,R:362,B:347,xtY:357,xtlY:367,ytX:189}, {
  tag:'(h)', tagXY:[283,376], xr:[0,38], yr:[1.47,3.53], xt:tk.h.x, yt:tk.h.y, xTitle:'Time (s)', yTitle:'Δ',
  ds: deltaDs(deltaH_t, deltaH_avfilos, deltaH_avfilosD, deltaH_avfilosR, deltaH_vfilos),
  legend:{r:[313,321,362,344], fs:4.8, sw:6}
});
makePanel({L:396,T:275,R:548,B:347,xtY:357,xtlY:367,ytX:374}, {
  tag:'(i)', tagXY:[468,376], xr:[0,26.7], yr:[1.47,3.55], xt:tk.i.x, yt:tk.i.y, xTitle:'Time (s)', yTitle:'Δ',
  ds: deltaDs(deltaI_t, deltaI_avfilos, deltaI_avfilosD, deltaI_avfilosR, deltaI_vfilos),
  legend:{r:[410,317,448,342], fs:5, sw:6}
});
// ---------------- Row 4 ----------------
makePanel({L:27,T:392,R:178,B:470,xtY:477,xtlY:486,ytX:6}, {
  tag:'(j)', tagXY:[91,496], xr:[0,37.5], yr:[0,0.2], xt:tk.j.x, yt:tk.j.y, xTitle:'Time (s)', yTitle:'c (curvature)',
  ds: curvDs(curvJ_t, curvJ)
});
makePanel({L:215,T:392,R:364,B:470,xtY:477,xtlY:486,ytX:195}, {
  tag:'(k)', tagXY:[288,496], xr:[0,38.6], yr:[0,0.3], xt:tk.k.x, yt:tk.k.y, xTitle:'Time (s)', yTitle:'c (curvature)',
  ds: curvDs(curvK_t, curvK)
});
makePanel({L:401,T:392,R:548,B:471,xtY:477,xtlY:486,ytX:380}, {
  tag:'(l)', tagXY:[463,496], xr:[0,26.8], yr:[0.05,0.245], xt:tk.l.x, yt:tk.l.y, xTitle:'Time (s)', yTitle:'c (curvature)',
  ds: curvDs(curvL_t, curvL)
});
// ---------------- Row 5 ----------------
makePanel({L:32,T:507,R:177,B:580,xtY:589,xtlY:599,ytX:13}, {
  tag:'(m)', tagXY:[90,610], xr:[0,37.5], yr:[0,0.12], xt:tk.m.x, yt:tk.m.y, xTitle:'Time (s)', yTitle:'η\u1D63',
  ds: etaDs(etaM_t, [etaM_avfilos, etaM_avfilosD, etaM_avfilosR, etaM_vfilos], etaM_vflos_t, etaM_vflos),
  legend:{r:[128,538,164,577], fs:4.8, sw:5}
});
makePanel({L:217,T:508,R:362,B:581,xtY:589,xtlY:599,ytX:192}, {
  tag:'(n)', tagXY:[281,610], xr:[0,39], yr:[0,0.3], xt:tk.n.x, yt:tk.n.y, xTitle:'Time (s)', yTitle:'η\u1D63',
  ds: etaDs(etaN_t, [etaN_avfilos, etaN_avfilosD, etaN_avfilosR, etaN_vfilos], etaN_vflos_t, etaN_vflos),
  legend:{r:[314,508,363,545], fs:4.8, sw:5}
});
makePanel({L:398,T:508,R:549,B:581,xtY:589,xtlY:599,ytX:377}, {
  tag:'(o)', tagXY:[467,610], xr:[0,26.2], yr:[0,0.3], xt:tk.o.x, yt:tk.o.y, xTitle:'Time (s)', yTitle:'η\u1D63',
  ds: etaDs(etaO_t, [etaO_avfilos, etaO_avfilosD, etaO_avfilosR, etaO_vfilos], etaO_vflos_t, etaO_vflos),
  legend:{r:[401,508,438,545], fs:4.8, sw:5}
});

// ---------------- Insets ----------------
makeInset([65,39,113,77],   insetDs([insA1_ref, insA1_av, insA1_avD, insA1_avR, insA1_vf, insA1_vfl]));
makeInset([59,79,131,113],  insetDs([insA2_ref, insA2_av, insA2_avD, insA2_avR, insA2_vf, insA2_vfl]));
makeInset([315,7,362,42],   insetDs([insB1_ref, insB1_av, insB1_avD, insB1_avR, insB1_vf, insB1_vfl]));
makeInset([265,76,325,114], insetDs([insB2_ref, insB2_av, insB2_avD, insB2_avR, insB2_vf, insB2_vfl]));
makeInset([398,6,445,40],   insetDs([insC1_ref, insC1_av, insC1_avD, insC1_avR, insC1_vf, insC1_vfl]));
makeInset([485,24,528,59],  insetDs([insC2_ref, insC2_av, insC2_avD, insC2_avR, insC2_vf, insC2_vfl]));
makeInset([43,162,118,200], insetDs([insD_ref, insD_av, insD_avD, insD_avR, insD_vf, insD_vfl]));
makeInset([431,186,504,223],insetDs([insF_ref, insF_av, insF_avD, insF_avR, insF_vf, insF_vfl]));
</script>
</body></html>
